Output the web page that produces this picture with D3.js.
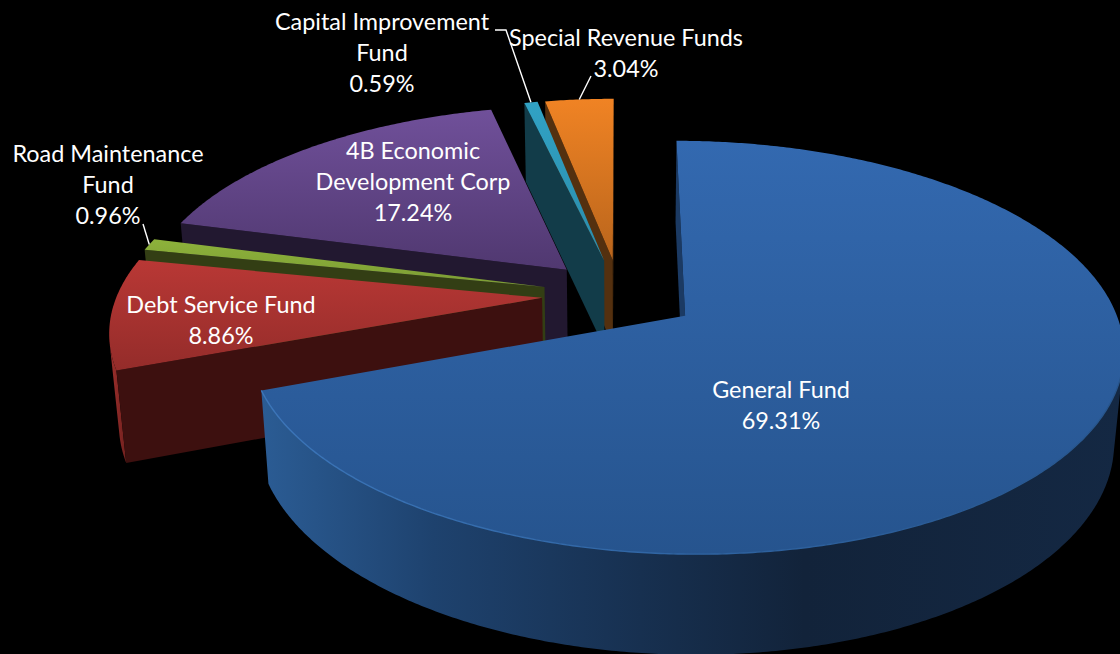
<!DOCTYPE html>
<html>
<head>
<meta charset="utf-8">
<script src="https://cdn.jsdelivr.net/npm/d3@7"></script>
<style>
html,body{margin:0;padding:0;background:#000;overflow:hidden}
svg{display:block}
text{font-family:Lato,"Open Sans",sans-serif;fill:#fff;text-anchor:middle}
</style>
</head>
<body>
<svg id="chart" width="1120" height="654"></svg>
<script>
// Data
const categories = ["General Fund","Debt Service Fund","Road Maintenance Fund","4B Economic Development Corp","Capital Improvement Fund","Special Revenue Funds"];
const values = [69.31,8.86,0.96,17.24,0.59,3.04];

// Style per slice
const topStart = ["#3369b0","#b93835","#8db23b","#70509a","#31a2c4","#f08324"];
const topEnd   = ["#26548e","#942c2a","#7c9c34","#503870","#2a8cab","#b9651c"];
const cutFill  = ["#1b3a63","#3d100f","#333e14","#221830","#123c49","#54300f"];
const rimStops = [
  [[0,"#2b5c94"],[0.2,"#1e426e"],[0.44,"#173050"],[0.63,"#12233a"],[1,"#142843"]],
  [[0,"#a0302d"],[1,"#70201e"]],
  [[0,"#55692a"],[1,"#333e14"]],
  [[0,"#3a2850"],[1,"#221830"]],
  [[0,"#1c6a80"],[1,"#123c49"]],
  [[0,"#8a4c18"],[1,"#54300f"]]
];

// Label layout
const labelLines = [["General Fund"],["Debt Service Fund"],["Road Maintenance","Fund"],["4B Economic","Development Corp"],["Capital Improvement","Fund"],["Special Revenue Funds"]];
const labelX = [781,221,108,413,382,626];
const labelY = [398,313,162,159,30,46];
const lineGap = 31;
const leaderStart = [null,null,[143,224],null,[495,30,506,30],[591,76]];

// Projection parameters
const W = 1120, H = 654;
const cx = 620, cy = 295, radius = 425, explode = 78, thickness = 102;
const camDist = 2500, sinTilt = 0.46, cosTilt = 0.888;

const rScale = d3.scaleLinear().domain([0,1]).range([0,radius]);
const sx = d3.scaleLinear().domain([0,1]).range([cx,cx+1]);
const sy = d3.scaleLinear().domain([0,1]).range([cy,cy+1]);

function project(X,Y,Z){
  const s = camDist/(camDist - cosTilt*Y - sinTilt*Z);
  return [sx(X*s), sy((Y*sinTilt - Z*cosTilt)*s)];
}
const svg = d3.select("#chart");
svg.append("rect").attr("width",W).attr("height",H).attr("fill","#000");
const defs = svg.append("defs");
const line = d3.line();

const pie = d3.pie().sort(null).value(d=>d).startAngle(0).endAngle(2*Math.PI);
const arcs = pie(values);

function grad(id,stops,x2,y2){
  const g = defs.append("linearGradient").attr("id",id).attr("x1",0).attr("y1",0).attr("x2",x2).attr("y2",y2);
  stops.forEach(s=>g.append("stop").attr("offset",s[0]).attr("stop-color",s[1]));
}

const slices = arcs.map((a,i)=>{
  const mid = (a.startAngle+a.endAngle)/2;
  const ox = explode*Math.sin(mid), oy = -explode*Math.cos(mid);
  const rimPt = (t)=>[ox+rScale(1)*Math.sin(t), oy-rScale(1)*Math.cos(t)];
  const n = Math.max(2,Math.ceil((a.endAngle-a.startAngle)/(Math.PI/360)));
  const angles = d3.range(n+1).map(k=>a.startAngle+(a.endAngle-a.startAngle)*k/n);
  return {i,a,mid,ox,oy,rimPt,angles};
});

const camY = camDist*cosTilt;
function facing(nx,ny,px,py){ return nx*(0-px)+ny*(camY-py) > 0; }

// Paint back to front
[5,4,3,2,1,0].forEach(idx=>{
  const s = slices[idx], i = s.i;
  grad("top"+i,[[0,topStart[i]],[1,topEnd[i]]],0,1);
  grad("rim"+i,rimStops[i],1,0);

  // outer wall
  const vis = s.angles.filter(t=>{
    const p = s.rimPt(t);
    return facing(Math.sin(t),-Math.cos(t),p[0],p[1]);
  });
  if(vis.length>1){
    const upper = vis.map(t=>{const p=s.rimPt(t);return project(p[0],p[1],0);});
    const lower = vis.map(t=>{const p=s.rimPt(t);return project(p[0],p[1],-thickness);}).reverse();
    svg.append("path").attr("d",line(upper.concat(lower))+"Z").attr("fill",`url(#rim${i})`);
  }

  // straight cut faces
  [[s.a.startAngle,-1],[s.a.endAngle,1]].forEach(([t,sgn])=>{
    const nx = sgn*Math.cos(t), ny = sgn*Math.sin(t);
    if(!facing(nx,ny,s.ox,s.oy)) return;
    const p = s.rimPt(t);
    const poly = [project(s.ox,s.oy,0),project(p[0],p[1],0),project(p[0],p[1],-thickness),project(s.ox,s.oy,-thickness)];
    svg.append("path").attr("d",line(poly)+"Z").attr("fill",cutFill[i]);
  });

  // top face
  const rimTop = s.angles.map(t=>{const p=s.rimPt(t);return project(p[0],p[1],0);});
  const poly = [project(s.ox,s.oy,0)].concat(rimTop);
  svg.append("path").attr("d",line(poly)+"Z").attr("fill",`url(#top${i})`);
  // soft bevel along the visible rim
  if(i===0 && vis.length>1){
    const edge = vis.map(t=>{const p=s.rimPt(t);return project(p[0],p[1],0);});
    grad("bev",[[0,"#3c76ba"],[0.5,"#2f64a2"],[1,"#27558c"]],1,0);
    svg.append("path").attr("d",line(edge)).attr("fill","none").attr("stroke","url(#bev)").attr("stroke-width",1.4);
  }
});

// Leader lines
slices.forEach(s=>{
  const st = leaderStart[s.i];
  if(!st) return;
  const p = s.rimPt(s.mid);
  const end = project(p[0],p[1],0);
  const pts = [];
  for(let k=0;k<st.length;k+=2) pts.push([st[k],st[k+1]]);
  pts.push(end);
  svg.append("path").attr("d",line(pts)).attr("fill","none").attr("stroke","#fff").attr("stroke-width",1.4);
});

// Labels
categories.forEach((c,i)=>{
  const t = svg.append("text").attr("font-size",23.4);
  const lines = labelLines[i].concat([values[i].toFixed(2)+"%"]);
  lines.forEach((l,k)=>{
    t.append("tspan").attr("x",labelX[i]).attr("y",labelY[i]+k*lineGap).text(l);
  });
});
</script>
</body>
</html>
